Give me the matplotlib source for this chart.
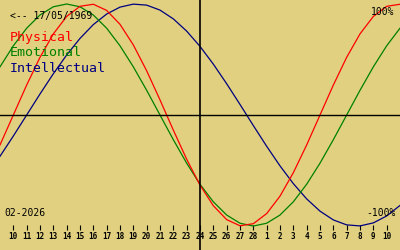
import matplotlib
matplotlib.use("Agg")
import matplotlib.pyplot as plt

# day labels shown along the bottom (Feb 2026 -> Mar 2026)
dayLabels = [str(d) for d in range(10, 29)] + [str(d) for d in range(1, 11)]
# one value per day from Feb 9 to Mar 11 (index -1 .. 29)
dayIndex = list(range(-1, 30))
physical = [-0.2698, 0.0, 0.2698, 0.5196, 0.7308, 0.8879, 0.9791, 0.9977, 0.9423,
            0.8170, 0.6311, 0.3984, 0.1362, -0.1362, -0.3984, -0.6311, -0.8170,
            -0.9423, -0.9977, -0.9791, -0.8879, -0.7308, -0.5196, -0.2698, 0.0,
            0.2698, 0.5196, 0.7308, 0.8879, 0.9791, 0.9977]
emotional = [0.4339, 0.6235, 0.7818, 0.9010, 0.9749, 1.0, 0.9749, 0.9010, 0.7818,
             0.6235, 0.4339, 0.2225, 0.0, -0.2225, -0.4339, -0.6235, -0.7818,
             -0.9010, -0.9749, -1.0, -0.9749, -0.9010, -0.7818, -0.6235, -0.4339,
             -0.2225, 0.0, 0.2225, 0.4339, 0.6235, 0.7818]
intellectual = [-0.3717, -0.1893, 0.0, 0.1893, 0.3717, 0.5406, 0.6901, 0.8146, 0.9096,
                0.9718, 0.9989, 0.9898, 0.9450, 0.8660, 0.7557, 0.6182, 0.4582,
                0.2817, 0.0951, -0.0951, -0.2817, -0.4582, -0.6182, -0.7557, -0.8660,
                -0.9450, -0.9898, -0.9989, -0.9718, -0.9096, -0.8146]
todayIndex = 14
birthText = "<-- 17/05/1969"
monthText = "02-2026"

bg = "#e0d080"
fig = plt.figure(figsize=(4, 2.5), dpi=100, facecolor=bg)
ax = fig.add_axes([0, 0, 1, 1], facecolor=bg)

ax.plot(dayIndex, intellectual, color="#000080", lw=0.9)
ax.plot(dayIndex, emotional, color="#008000", lw=0.9)
ax.plot(dayIndex, physical, color="#ff0000", lw=0.9)

ax.axhline(0, color="black", lw=1.0)
ax.axvline(todayIndex, color="black", lw=1.2)

ax.set_xlim(-1, 29)
ax.set_ylim(-1.216, 1.036)

# ticks sit on an invisible spine at -100%
for s in ["top", "right", "left"]:
    ax.spines[s].set_visible(False)
ax.spines["bottom"].set_position(("data", -0.99))
ax.spines["bottom"].set_visible(False)
ax.set_xticks(range(len(dayLabels)))
ax.set_xticklabels(dayLabels, fontsize=5.5, fontweight="bold", family="DejaVu Sans Mono")
ax.tick_params(axis="x", direction="out", length=3.6, width=0.8, pad=1.5)
ax.set_yticks([])

mono = "DejaVu Sans Mono"
ax.text(10, 16, birthText, transform=None, fontsize=7, family=mono, va="center")
ax.text(10, 38, "Physical", transform=None, fontsize=9.5, family=mono, color="#ff0000", va="center")
ax.text(10, 53, "Emotional", transform=None, fontsize=9.5, family=mono, color="#008000", va="center")
ax.text(10, 68, "Intellectual", transform=None, fontsize=9.5, family=mono, color="#000080", va="center")

# pixel positions from the top, converted for display coords
for t in ax.texts:
    x, y = t.get_position()
    t.set_position((x, 250 - y))

ax.text(0.985, 0.952, "100%", transform=ax.transAxes, fontsize=7, family=mono, ha="right", va="center")
ax.text(0.99, 0.148, "-100%", transform=ax.transAxes, fontsize=7, family=mono, ha="right", va="center")
ax.text(0.01, 0.148, monthText, transform=ax.transAxes, fontsize=7, family=mono, ha="left", va="center")

fig.savefig("out.png", dpi=100, facecolor=bg)
